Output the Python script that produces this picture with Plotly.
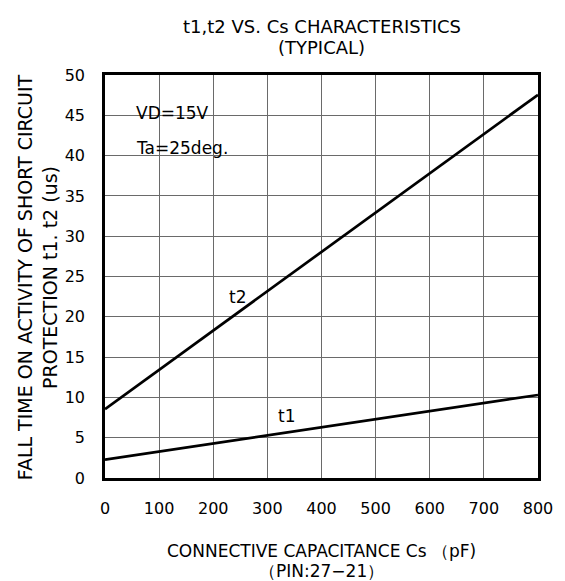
import plotly.graph_objects as go

cs = [0, 800]
t1 = [2.27, 10.3]
t2 = [8.55, 47.55]
x_ticks = [0, 100, 200, 300, 400, 500, 600, 700, 800]
y_ticks = [0, 5, 10, 15, 20, 25, 30, 35, 40, 45, 50]

FONT = "DejaVu Sans, Arial, sans-serif"

# page-pixel geometry of plot area (page has 8px body margin)
PL, PR, PT, PB = 105, 545, 75, 478
OFF = 8
W, H = 565 - OFF, 581 - OFF

fig = go.Figure()
fig.add_trace(go.Scatter(x=cs, y=t2, mode="lines", line=dict(color="black", width=2.7), showlegend=False))
fig.add_trace(go.Scatter(x=cs, y=t1, mode="lines", line=dict(color="black", width=2.7), showlegend=False))

# white box with conditions (covers grid)
fig.add_shape(type="rect", xref="x", yref="y", x0=53, x1=276, y0=37.3, y1=48.4,
              fillcolor="white", line=dict(width=0), layer="below")

fig.update_layout(
    width=W, height=H,
    margin=dict(l=PL - OFF, r=W - (PR - OFF), t=PT - OFF, b=H - (PB - OFF)),
    paper_bgcolor="white", plot_bgcolor="white",
    font=dict(family=FONT, size=16, color="black"),
    xaxis=dict(range=[0, 800], tickvals=x_ticks, ticks="", showgrid=True,
               gridcolor="#6a6a6a", gridwidth=1.2, showline=True, linecolor="black",
               linewidth=2.5, mirror=True, zeroline=False, layer="below traces",
               tickfont=dict(size=16), ticklabelstandoff=14),
    yaxis=dict(range=[0, 50], tickvals=y_ticks, ticks="", showgrid=True,
               gridcolor="#6a6a6a", gridwidth=1.2, showline=True, linecolor="black",
               linewidth=2.5, mirror=True, zeroline=False, layer="below traces",
               tickfont=dict(size=16), ticklabelstandoff=14),
)

def px(xp):
    return (xp - PL) / (PR - PL)

def py(yp):
    return 1 - (yp - PT) / (PB - PT)

annotations = []
for text, x, y, size in [
    ("t1,t2 VS. Cs CHARACTERISTICS", 325, 27, 18),
    ("(TYPICAL)", 325, 47, 18),
    ("CONNECTIVE CAPACITANCE Cs （pF)", 325, 551, 17),
    ("（PIN:27−21）", 325, 571, 17),
]:
    annotations.append(dict(text=text, xref="paper", yref="paper", x=px(x), y=py(y),
                            showarrow=False, xanchor="center", yanchor="middle",
                            font=dict(size=size, family=FONT)))
for txt, xp in [("FALL TIME ON ACTIVITY OF SHORT CIRCUIT", 24), ("PROTECTION t1. t2 (us)", 49)]:
    annotations.append(dict(text=txt, xref="paper", yref="paper", x=px(xp), y=py(277),
                            showarrow=False, textangle=-90, xanchor="center", yanchor="middle",
                            font=dict(size=19, family=FONT)))
annotations += [
    dict(text="VD=15V", x=54, y=45.3, xref="x", yref="y", showarrow=False, xanchor="left",
         font=dict(size=17, family=FONT)),
    dict(text="Ta=25deg.", x=54, y=40.9, xref="x", yref="y", showarrow=False, xanchor="left",
         font=dict(size=17, family=FONT)),
    dict(text="t2", x=244, y=22.5, xref="x", yref="y", showarrow=False,
         font=dict(size=17, family=FONT)),
    dict(text="t1", x=336, y=7.7, xref="x", yref="y", showarrow=False,
         font=dict(size=17, family=FONT)),
]
fig.update_layout(annotations=annotations)

fig.write_html("out.html")
